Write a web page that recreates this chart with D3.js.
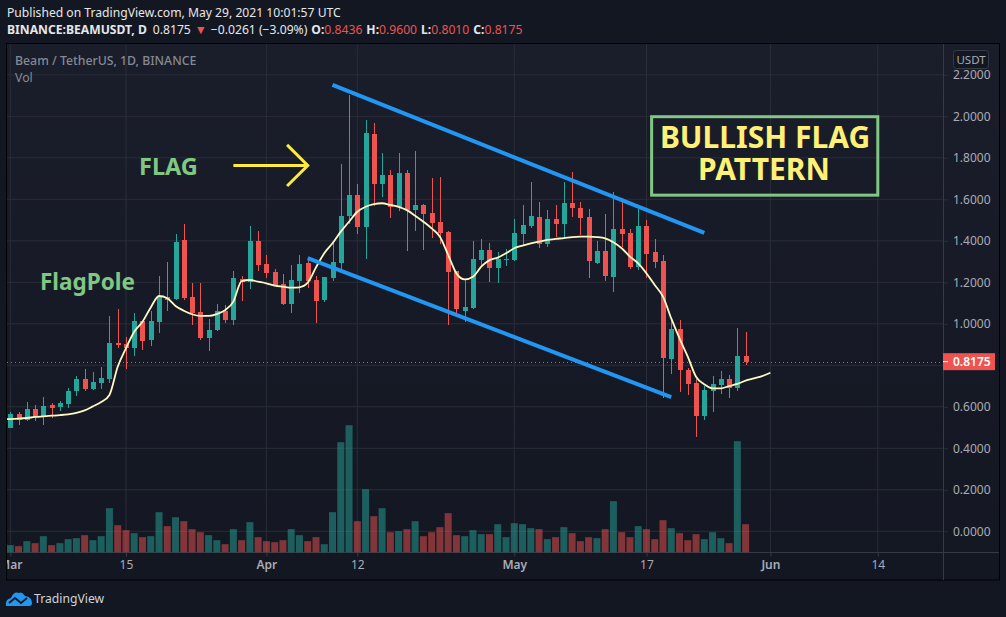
<!DOCTYPE html>
<html>
<head>
<meta charset="utf-8">
<title>Beam / TetherUS bullish flag</title>
<script src="https://cdn.jsdelivr.net/npm/d3@7"></script>
<style>
  html, body { margin: 0; padding: 0; background: #131722; overflow: hidden; }
  svg { display: block; }
  text { font-family: "Noto Sans", sans-serif; }
</style>
</head>
<body>
<script>
// daily candles, starting 1 march 2021
const firstDay = new Date(Date.UTC(2021, 2, 1));

const opens = [.499,.565,.536,.589,.549,.609,.599,.613,.676,.734,.686,.715,.734,.907,.903,.883,1.013,.922,1.009,1.129,
  1.120,1.404,1.129,1.057,.932,.970,1.062,1.018,1.216,1.201,1.399,1.288,1.250,1.192,1.095,1.206,1.293,1.211,1.115,1.221,
  1.293,1.520,1.621,1.466,1.915,1.674,1.717,1.563,1.727,1.548,1.573,1.534,1.491,1.442,1.254,1.062,1.076,1.307,1.356,1.269,
  1.307,1.307,1.433,1.471,1.515,1.385,1.505,1.481,1.582,1.558,1.515,1.293,1.351,1.225,1.457,1.438,1.274,1.471,1.346,1.303,
  .830,.975,.777,.715,.556,.676,.705,.734,.691,.8436];
const highs = [.577,.575,.623,.609,.647,.618,.628,.691,.748,.782,.768,.792,1.038,1.071,.936,1.052,1.013,1.062,1.230,1.298,
  1.433,1.481,1.197,1.197,1.023,1.095,1.091,1.254,1.230,1.471,1.447,1.332,1.264,1.240,1.283,1.332,1.317,1.230,1.227,1.394,
  1.770,2.103,1.674,1.982,1.968,1.823,1.741,1.823,1.741,1.833,1.577,1.703,1.707,1.447,1.254,1.216,1.399,1.409,1.389,1.346,
  1.360,1.505,1.573,1.683,1.587,1.548,1.573,1.683,1.732,1.587,1.553,1.399,1.529,1.635,1.605,1.457,1.553,1.500,1.409,1.332,
  1.028,1.018,.787,.734,.700,.748,.772,.753,.980,.9600];
const lows = [.497,.514,.533,.530,.514,.548,.580,.594,.652,.676,.681,.686,.715,.883,.782,.845,.874,.893,.956,1.062,
  1.115,1.115,.994,.922,.869,.965,1.004,.994,1.110,1.168,1.254,1.221,1.182,1.091,1.052,1.148,1.173,1.004,1.105,1.206,
  1.264,1.481,1.433,1.312,1.568,1.611,1.510,1.544,1.351,1.447,1.356,1.413,1.385,.994,1.042,1.009,1.071,1.274,1.201,1.197,
  1.279,1.303,1.380,1.462,1.365,1.370,1.418,1.409,1.515,1.428,1.221,1.288,1.206,1.153,1.370,1.264,1.259,1.221,1.269,.642,
  .758,.671,.657,.454,.536,.575,.662,.642,.676,.8010];
const closes = [.565,.536,.589,.549,.604,.594,.618,.676,.734,.686,.720,.739,.907,.898,.883,1.013,.917,1.013,1.129,1.115,
  1.394,1.123,1.052,.932,.970,1.062,1.018,1.221,1.201,1.399,1.283,1.245,1.187,1.095,1.211,1.288,1.206,1.110,1.225,1.298,
  1.520,1.621,1.466,1.920,1.674,1.717,1.563,1.727,1.548,1.573,1.529,1.486,1.438,1.250,1.071,1.081,1.312,1.356,1.269,1.312,
  1.312,1.438,1.476,1.520,1.385,1.505,1.481,1.582,1.558,1.510,1.303,1.351,1.230,1.457,1.433,1.274,1.471,1.336,1.298,.835,
  .975,.777,.710,.556,.681,.710,.734,.691,.845,.8175];
const volumes = [22,19,34,28,49,22,28,40,43,52,37,49,133,82,67,58,46,49,121,79,
  106,94,70,61,52,37,25,70,37,91,46,34,31,37,70,52,34,46,25,121,
  331,382,94,190,109,133,61,64,70,94,49,61,76,118,52,49,67,55,55,85,
  46,88,85,73,70,40,46,76,58,34,46,43,70,154,61,46,79,70,40,97,
  73,58,37,55,40,61,43,28,334,85];

// smoothed average, one value a day from 28 february, runs on past the last candle
const averages = [.540,.541,.543,.546,.551,.554,.557,.560,.564,.571,.583,.602,.623,.657,.793,.882,.962,1.010,1.079,1.134,
  1.123,1.086,1.063,1.046,1.038,1.038,1.047,1.066,1.107,1.206,1.211,1.203,1.195,1.184,1.179,1.174,1.176,1.198,1.272,1.340,
  1.388,1.444,1.492,1.540,1.564,1.577,1.581,1.573,1.564,1.548,1.521,1.492,1.460,1.420,1.332,1.243,1.214,1.227,1.275,1.307,
  1.319,1.340,1.364,1.377,1.388,1.396,1.404,1.409,1.413,1.418,1.420,1.420,1.418,1.412,1.393,1.364,1.324,1.291,1.243,1.187,
  1.131,1.026,.930,.842,.745,.708,.689,.689,.700,.710,.726,.737,.748,.764];

const priceTicks = [0, .2, .4, .6, .8, 1, 1.2, 1.4, 1.6, 1.8, 2, 2.2];
const timeTicks = ["2021-03-01", "2021-03-15", "2021-04-01", "2021-04-12", "2021-05-01", "2021-05-17", "2021-06-01", "2021-06-14"];
const timeLabels = ["Mar", "15", "Apr", "12", "May", "17", "Jun", "14"];
const lastPrice = .8175;

// drawings on the chart, as date + price
const channelLines = [
  [["2021-04-09", 2.151], ["2021-05-24", 1.438]],
  [["2021-04-06", 1.317], ["2021-05-20", .647]]
];
const arrowShaft = [["2021-03-28", 1.763], ["2021-04-06", 1.763]];
const arrowHead = [["2021-04-03T12:00Z", 1.862], ["2021-04-06", 1.763], ["2021-04-03T12:00Z", 1.664]];
const boxCorners = [["2021-05-17T15:00Z", 1.998], ["2021-06-14", 1.62]];

const w = 1006;
const h = 617;
const paneLeft = 7;
const paneRight = 943;
const paneTop = 44;
const timeAxisY = 552.5;
const outerRight = 999.5;
const outerBottom = 580;

var dates = opens.map(function(d, i) { return d3.utcDay.offset(firstDay, i); });

var xScale = d3.scaleUtc()
               .domain([firstDay, new Date("2021-06-14")])
               .range([10.3, 877.8]);
var yScale = d3.scaleLinear()
               .domain([0, 2.2])
               .range([531.3, 74.8]);
var volScale = d3.scaleLinear()
                 .domain([0, 400])
                 .range([timeAxisY, timeAxisY - 133.3]);

function px(d) { return xScale(new Date(d)); }

var svg = d3.select("body")
            .append("svg")
            .attr("width", w)
            .attr("height", h);

var defs = svg.append("defs");
var grad = defs.append("linearGradient")
               .attr("id", "paneFill")
               .attr("x1", 0).attr("y1", 0).attr("x2", 0).attr("y2", 1);
grad.append("stop").attr("offset", "0%").attr("stop-color", "#1a1d2a");
grad.append("stop").attr("offset", "100%").attr("stop-color", "#131722");

defs.append("clipPath").attr("id", "paneClip")
    .append("rect")
    .attr("x", paneLeft).attr("y", paneTop)
    .attr("width", paneRight - paneLeft).attr("height", timeAxisY - paneTop);
defs.append("clipPath").attr("id", "timeClip")
    .append("rect")
    .attr("x", paneLeft).attr("y", timeAxisY)
    .attr("width", paneRight - paneLeft).attr("height", outerBottom - timeAxisY);

svg.append("rect")
   .attr("x", 6.5).attr("y", 43.5)
   .attr("width", outerRight - 6.5).attr("height", outerBottom - 43.5)
   .attr("fill", "url(#paneFill)")
   .attr("stroke", "#000");

// time axis, clipped on a plain group so the first label gets cut at the pane edge
var timeAxis = svg.append("g")
   .attr("clip-path", "url(#timeClip)")
   .append("g")
   .attr("transform", "translate(0," + timeAxisY + ")")
   .call(d3.axisBottom(xScale)
           .tickValues(timeTicks.map(function(d) { return new Date(d); }))
           .tickSizeOuter(0)
           .tickSize(4)
           .tickPadding(4)
           .tickFormat(function(d, i) { return timeLabels[i]; }));
timeAxis.select(".domain").remove();
timeAxis.selectAll("line").attr("stroke", "#363a45");
timeAxis.selectAll("text")
        .attr("fill", "#a9acb6")
        .style("font-size", "12px")
        .style("font-weight", function(d, i) { return i % 2 === 0 ? 600 : 400; });

svg.append("g")
   .attr("clip-path", "url(#paneClip)")
   .selectAll("line")
   .data(timeTicks)
   .enter()
   .append("line")
   .attr("x1", function(d) { return px(d); })
   .attr("x2", function(d) { return px(d); })
   .attr("y1", paneTop)
   .attr("y2", timeAxisY)
   .attr("stroke", "#2a2e39");

// 0.8000 sits behind the last price label, so it stays empty
var priceAxis = svg.append("g")
   .attr("transform", "translate(" + paneRight + ",0)")
   .call(d3.axisRight(yScale)
           .tickValues(priceTicks)
           .tickSize(5)
           .tickPadding(5)
           .tickFormat(function(d) { return d === .8 ? "" : d3.format(".4f")(d); }));
priceAxis.select(".domain").remove();
priceAxis.selectAll("line").attr("stroke", "#2a2e39");
priceAxis.selectAll("text")
         .attr("fill", "#a9acb6")
         .style("font-size", "12px");

svg.append("g")
   .selectAll("line")
   .data(priceTicks)
   .enter()
   .append("line")
   .attr("x1", paneLeft)
   .attr("x2", paneRight)
   .attr("y1", function(d) { return yScale(d); })
   .attr("y2", function(d) { return yScale(d); })
   .attr("stroke", "#2a2e39");

// axis borders
svg.append("line")
   .attr("x1", paneRight + .5).attr("x2", paneRight + .5)
   .attr("y1", paneTop).attr("y2", outerBottom)
   .attr("stroke", "#363a45");
svg.append("line")
   .attr("x1", paneLeft).attr("x2", outerRight - .5)
   .attr("y1", timeAxisY).attr("y2", timeAxisY)
   .attr("stroke", "#363a45");

var plot = svg.append("g").attr("clip-path", "url(#paneClip)");

// volume
plot.selectAll(".vol")
    .data(volumes)
    .enter()
    .append("rect")
    .attr("class", "vol")
    .attr("x", function(d, i) { return xScale(dates[i]) - 3.5; })
    .attr("width", 7)
    .attr("y", function(d) { return volScale(d); })
    .attr("height", function(d) { return timeAxisY - volScale(d); })
    .attr("fill", function(d, i) { return closes[i] >= opens[i] ? "#26a69a" : "#ef5350"; })
    .attr("fill-opacity", .5);

// last price dotted line
plot.append("line")
    .attr("x1", paneLeft)
    .attr("x2", paneRight)
    .attr("y1", Math.round(yScale(lastPrice)) + .5)
    .attr("y2", Math.round(yScale(lastPrice)) + .5)
    .attr("stroke", "#ef5350")
    .attr("stroke-dasharray", "1 3");

// wicks
plot.selectAll(".wick")
    .data(opens)
    .enter()
    .append("line")
    .attr("class", "wick")
    .attr("x1", function(d, i) { return Math.round(xScale(dates[i])) + .5; })
    .attr("x2", function(d, i) { return Math.round(xScale(dates[i])) + .5; })
    .attr("y1", function(d, i) { return yScale(highs[i]); })
    .attr("y2", function(d, i) { return yScale(lows[i]); })
    .attr("shape-rendering", "crispEdges")
    .attr("stroke", function(d, i) { return closes[i] >= d ? "#26a69a" : "#ef5350"; });

// bodies
plot.selectAll(".body")
    .data(opens)
    .enter()
    .append("rect")
    .attr("class", "body")
    .attr("x", function(d, i) { return Math.round(xScale(dates[i])) - 2; })
    .attr("width", 5)
    .attr("y", function(d, i) { return yScale(Math.max(d, closes[i])); })
    .attr("height", function(d, i) { return Math.max(1, Math.abs(yScale(d) - yScale(closes[i]))); })
    .attr("shape-rendering", "crispEdges")
    .attr("fill", function(d, i) { return closes[i] >= d ? "#26a69a" : "#ef5350"; });

// moving average
var maLine = d3.line()
               .x(function(d, i) { return xScale(d3.utcDay.offset(firstDay, i - 1)); })
               .y(function(d) { return yScale(d); })
               .curve(d3.curveMonotoneX);
plot.append("path")
    .attr("d", maLine(averages))
    .attr("fill", "none")
    .attr("stroke", "#fff9c4")
    .attr("stroke-width", 1.8);

// drawings
var drawLine = d3.line()
                 .x(function(d) { return px(d[0]); })
                 .y(function(d) { return yScale(d[1]); });

plot.selectAll(".channel")
    .data(channelLines)
    .enter()
    .append("path")
    .attr("class", "channel")
    .attr("d", drawLine)
    .attr("fill", "none")
    .attr("stroke", "#2196f3")
    .attr("stroke-width", 4);

plot.selectAll(".arrow")
    .data([arrowShaft, arrowHead])
    .enter()
    .append("path")
    .attr("class", "arrow")
    .attr("d", drawLine)
    .attr("fill", "none")
    .attr("stroke", "#ffeb3b")
    .attr("stroke-width", 3);

plot.append("rect")
    .attr("x", px(boxCorners[0][0]))
    .attr("y", yScale(boxCorners[0][1]))
    .attr("width", px(boxCorners[1][0]) - px(boxCorners[0][0]))
    .attr("height", yScale(boxCorners[1][1]) - yScale(boxCorners[0][1]))
    .attr("fill", "none")
    .attr("stroke", "#81c784")
    .attr("stroke-width", 3);

var boxText = plot.append("text")
    .attr("text-anchor", "middle")
    .attr("fill", "#fff176")
    .style("font-size", "30px").style("font-weight", 700);
boxText.append("tspan").attr("x", 765).attr("y", 148).text("BULLISH FLAG");
boxText.append("tspan").attr("x", 764).attr("y", 180).text("PATTERN");

plot.append("text")
    .attr("x", 139).attr("y", 175)
    .attr("fill", "#81c784")
    .style("font-size", "23.5px").style("font-weight", 700)
    .text("FLAG");
plot.append("text")
    .attr("x", 40).attr("y", 290)
    .attr("fill", "#81c784")
    .style("font-size", "22.5px").style("font-weight", 700)
    .text("FlagPole");

// legend on the pane
svg.append("text").attr("x", 15).attr("y", 65)
   .attr("fill", "#868993").style("font-size", "12.3px").style("font-weight", 500)
   .text("Beam / TetherUS, 1D, BINANCE");
svg.append("text").attr("x", 15).attr("y", 82)
   .attr("fill", "#868993").style("font-size", "12.3px")
   .text("Vol");

// currency button
svg.append("rect")
   .attr("x", 953.5).attr("y", 50.5).attr("width", 35).attr("height", 18).attr("rx", 3)
   .attr("fill", "#131722").attr("stroke", "#363a45");
svg.append("text").attr("x", 971).attr("y", 64)
   .attr("text-anchor", "middle").attr("fill", "#a9acb6").style("font-size", "11.5px")
   .text("USDT");

// last price label
svg.append("rect")
   .attr("x", paneRight).attr("y", yScale(lastPrice) - 8.5)
   .attr("width", 52).attr("height", 17)
   .attr("fill", "#ef5350");
svg.append("line")
   .attr("x1", paneRight).attr("x2", paneRight + 5)
   .attr("y1", yScale(lastPrice)).attr("y2", yScale(lastPrice))
   .attr("stroke", "#fff");
svg.append("text")
   .attr("x", 953).attr("y", yScale(lastPrice) + 4.5)
   .attr("fill", "#fff").style("font-size", "12px").style("font-weight", 600)
   .text(d3.format(".4f")(lastPrice));

// header
svg.append("text").attr("x", 7).attr("y", 17)
   .attr("fill", "#e6e7ea").style("font-size", "12.15px")
   .text("Published on TradingView.com, May 29, 2021 10:01:57 UTC");

var head = svg.append("text").attr("x", 7).attr("y", 34)
              .attr("fill", "#e6e7ea").style("font-size", "12.15px");
head.append("tspan").style("font-weight", 700).text("BINANCE:BEAMUSDT, D");
head.append("tspan").attr("dx", 6).text("0.8175");
head.append("tspan").attr("dx", 4).attr("fill", "#ef5350").text("\u25BC");
head.append("tspan").attr("dx", 4).text("\u22120.0261 (\u22123.09%)");
var ohlc = [["O:", "0.8436"], ["H:", "0.9600"], ["L:", "0.8010"], ["C:", "0.8175"]];
ohlc.forEach(function(d) {
  head.append("tspan").attr("dx", 4).style("font-weight", 700).text(d[0]);
  head.append("tspan").attr("fill", "#ef5350").text(d[1]);
});

// logo
var logo = svg.append("g").attr("transform", "translate(6,590)");
logo.append("path")
    .attr("d", "M0 16 Q-1 9 5 8 Q8 1 13 3 Q16 1 19 6 Q26 7 26 13 Q26 16 23 16 Z")
    .attr("fill", "#2196f3");
logo.append("path")
    .attr("d", "M3 13 L9 8 L15 13 L21 8")
    .attr("fill", "none").attr("stroke", "#131722").attr("stroke-width", 1.8);
svg.append("text").attr("x", 34).attr("y", 603)
   .attr("fill", "#d1d4dc").style("font-size", "12.2px")
   .text("TradingView");
</script>
</body>
</html>
